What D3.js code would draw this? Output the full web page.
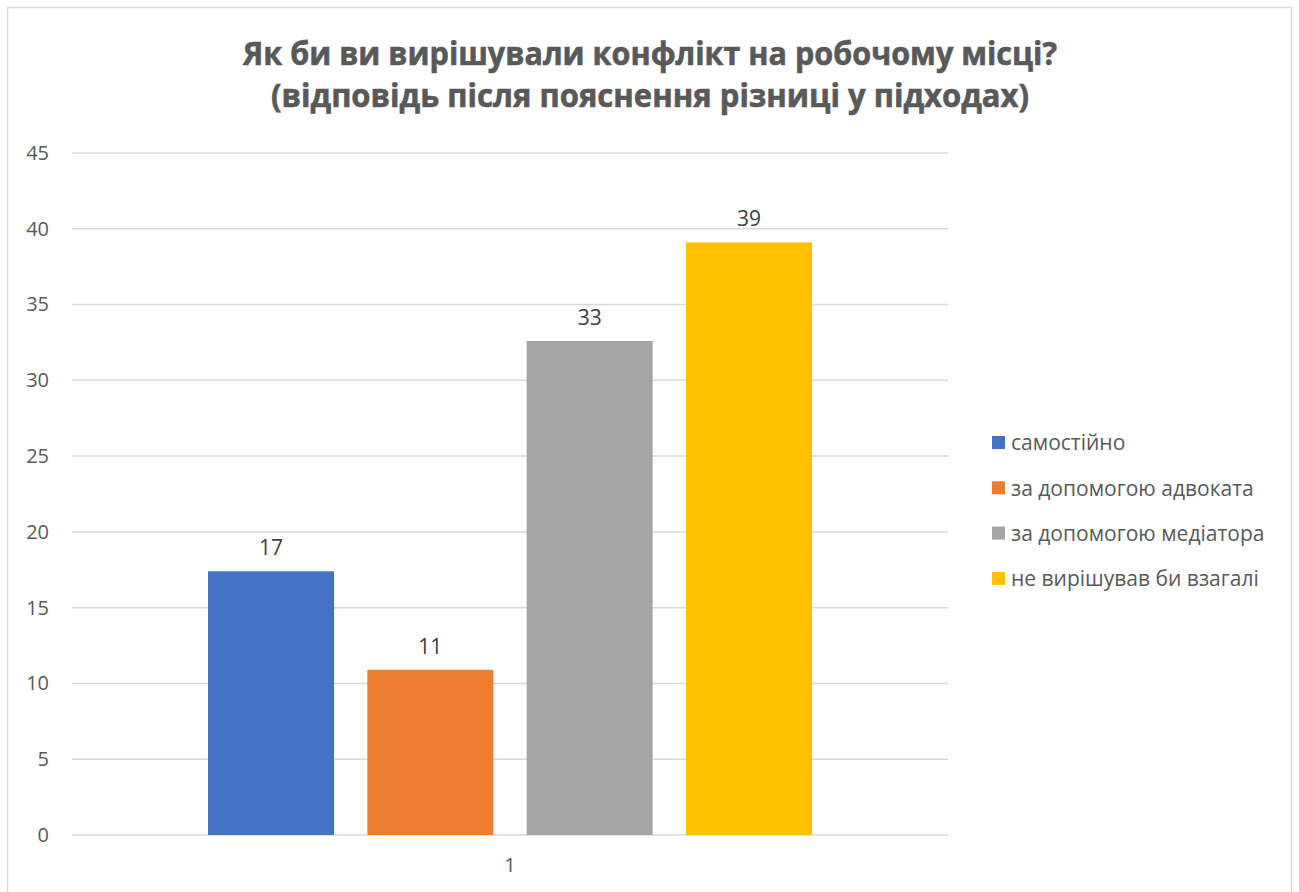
<!DOCTYPE html>
<meta charset="utf-8">
<html>
<head>
    <title>Конфлікт на робочому місці</title>
    <script src="https://cdn.jsdelivr.net/npm/d3@7"></script>
</head>
<style>
    body{
        margin: 0;
        background: #ffffff;
    }
    svg{
        display: block;
    }
    text{
        font-family: "Open Sans", "Noto Sans", sans-serif;
    }
</style>
<body>
<svg width="1299" height="892"></svg>
<script>
    // data
    let categories = ["1"]
    let series = ["самостійно", "за допомогою адвоката", "за допомогою медіатора", "не вирішував би взагалі"]
    let values = [17.4, 10.9, 32.6, 39.1]
    let colors = ["#4472c4", "#ed7d31", "#a5a5a5", "#ffc000"]
    let yTicks = [0, 5, 10, 15, 20, 25, 30, 35, 40, 45]
    let titleLines = ["Як би ви вирішували конфлікт на робочому місці?", "(відповідь після пояснення різниці у підходах)"]

    let svg = d3.select("svg")

    // chart border
    svg.append("rect")
        .attr("x", 7.5).attr("y", 7.5)
        .attr("width", 1284).attr("height", 900)
        .attr("fill", "white")
        .attr("stroke", "#d9d9d9")
        .attr("stroke-width", 1.5)

    // title
    svg.selectAll(".title")
        .data(titleLines)
        .enter()
        .append("text")
        .attr("class", "title")
        .attr("x", 650)
        .attr("y", (d, i) => 65 + i * 42)
        .attr("text-anchor", "middle")
        .attr("font-size", 32)
        .attr("font-weight", "bold")
        .attr("fill", "#595959")
        .attr("stroke", "#595959")
        .attr("stroke-width", 0.6)
        .attr("textLength", (d, i) => i === 0 ? 814 : 758)
        .attr("lengthAdjust", "spacingAndGlyphs")
        .text(d => d)

    // scales
    let plotLeft = 72, plotRight = 948, plotTop = 153, plotBottom = 835

    let y = d3.scaleLinear()
        .domain([0, 45])
        .range([plotBottom, plotTop])

    let x0 = d3.scaleBand()
        .domain(categories)
        .range([plotLeft, plotRight])
        .paddingInner(0)
        .paddingOuter(0.2252)

    let x1 = d3.scaleBand()
        .domain(series)
        .range([0, x0.bandwidth()])
        .paddingInner(0.209)
        .paddingOuter(0)

    // gridlines
    svg.append("g")
        .selectAll("line")
        .data(yTicks)
        .enter()
        .append("line")
        .attr("x1", plotLeft)
        .attr("x2", plotRight)
        .attr("y1", d => y(d))
        .attr("y2", d => y(d))
        .attr("stroke", "#d9d9d9")
        .attr("stroke-width", 1.5)

    // y axis labels
    let yAxis = d3.axisLeft(y).tickValues(yTicks).tickSize(0).tickPadding(0)
    let yg = svg.append("g")
        .attr("transform", "translate(49,0)")
        .call(yAxis)
    yg.select(".domain").remove()
    yg.selectAll("text")
        .attr("font-family", "\"Open Sans\", sans-serif")
        .attr("font-size", 20)
        .attr("fill", "#595959")

    // bars
    let bars = svg.append("g")
        .selectAll("g")
        .data(categories)
        .enter()
        .append("g")
        .attr("transform", d => "translate(" + x0(d) + ",0)")

    let barData = series.map((s, i) => ({name: s, value: values[i], color: colors[i]}))

    bars.selectAll("rect")
        .data(barData)
        .enter()
        .append("rect")
        .attr("x", d => x1(d.name))
        .attr("y", d => y(d.value))
        .attr("width", x1.bandwidth())
        .attr("height", d => y(0) - y(d.value))
        .attr("fill", d => d.color)

    // data labels
    bars.selectAll("text")
        .data(barData)
        .enter()
        .append("text")
        .attr("x", d => x1(d.name) + x1.bandwidth() / 2)
        .attr("y", d => y(d.value) - 16)
        .attr("text-anchor", "middle")
        .attr("font-size", 21)
        .attr("fill", "#404040")
        .text(d => d3.format(".0f")(d.value))

    // x axis label
    let xAxis = d3.axisBottom(x0).tickSize(0).tickPadding(0)
    let xg = svg.append("g")
        .attr("transform", "translate(0," + (plotBottom + 23) + ")")
        .call(xAxis)
    xg.select(".domain").remove()
    xg.selectAll("text")
        .attr("font-family", "\"Open Sans\", sans-serif")
        .attr("font-size", 20)
        .attr("fill", "#595959")

    // legend
    let legend = svg.append("g")
        .selectAll("g")
        .data(barData)
        .enter()
        .append("g")
        .attr("transform", (d, i) => "translate(992," + (443 + i * 45.3) + ")")

    legend.append("rect")
        .attr("x", 0)
        .attr("y", -7)
        .attr("width", 13)
        .attr("height", 13)
        .attr("fill", d => d.color)

    legend.append("text")
        .attr("x", 19)
        .attr("y", 0)
        .attr("dy", "0.35em")
        .attr("font-size", 21)
        .attr("fill", "#595959")
        .text(d => d.name)
</script>
</body>
</html>
